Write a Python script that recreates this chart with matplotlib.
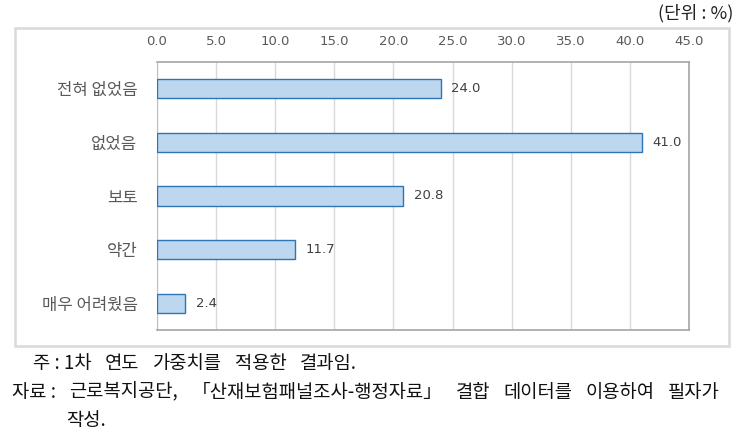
import matplotlib
matplotlib.use("Agg")
import matplotlib.pyplot as plt
from matplotlib.patches import Rectangle

plt.rcParams['font.family'] = ['Noto Sans CJK KR', 'DejaVu Sans']

# data
categories = ["전혀 없었음", "없었음", "보토", "약간", "매우 어려웠음"]
values = [24.0, 41.0, 20.8, 11.7, 2.4]
xticks = [0, 5, 10, 15, 20, 25, 30, 35, 40, 45]

W, H = 746, 444
fig = plt.figure(figsize=(W / 100, H / 100), dpi=100)

# outer chart frame
fig.patches.append(Rectangle((15 / W, 1 - 346 / H), (729 - 15) / W, (346 - 28) / H,
                             transform=fig.transFigure, fill=False,
                             edgecolor='#D9D9D9', linewidth=1.8))

ax = fig.add_axes([157 / W, 1 - 330 / H, (689 - 157) / W, (330 - 62) / H])

y = list(range(len(categories)))
ax.barh(y, values, height=0.36, color='#BDD7EE', edgecolor='#2E75B6', linewidth=1.0, zorder=3)
for yi, v in zip(y, values):
    ax.text(v + 0.9, yi, f"{v:.1f}", va='center', ha='left', fontsize=9.5,
            color='#404040', family='DejaVu Sans')

ax.set_xlim(0, 45)
ax.set_ylim(len(categories) - 0.5, -0.5)
ax.set_xticks(xticks)
ax.set_xticklabels([f"{t:.1f}" for t in xticks], family='DejaVu Sans')
ax.xaxis.tick_top()
ax.tick_params(axis='x', length=0, pad=10, labelsize=9.5, labelcolor='#595959')
ax.set_yticks(y)
ax.set_yticklabels(categories, fontsize=12)
ax.tick_params(axis='y', length=0, pad=14, labelcolor='#595959')
ax.grid(axis='x', color='#D9D9D9', linewidth=1.0, zorder=0)
for side in ['top', 'right', 'bottom']:
    ax.spines[side].set_color('#A6A6A6')
    ax.spines[side].set_linewidth(1.2)
ax.spines['left'].set_color('#BFBFBF')

fig.text(733 / W, 1 - 13 / H, "(단위 : %)", ha='right', va='center', fontsize=13, color='#222222')

# notes, justified word by word between x0 and x1 (pixels)
renderer = fig.canvas.get_renderer()

def note_line(words, x0, x1, ypix, size=13.5):
    texts = [fig.text(0, 1 - ypix / H, w, ha='left', va='center', fontsize=size, color='#111111')
             for w in words]
    widths = [t.get_window_extent(renderer).width for t in texts]
    gap = (x1 - x0 - sum(widths)) / max(len(words) - 1, 1)
    x = x0
    for t, wd in zip(texts, widths):
        t.set_x(x / W)
        x += wd + gap

note_line(["주 : 1차", "연도", "가중치를", "적용한", "결과임."], 33, 357, 364)
note_line(["자료 :", "근로복지공단,", "「산재보험패널조사-행정자료」", "결합", "데이터를", "이용하여", "필자가"],
          12, 720, 392)
fig.text(66 / W, 1 - 420 / H, "작성.", ha='left', va='center', fontsize=13.5, color='#111111')

fig.savefig("out.png", dpi=100)
